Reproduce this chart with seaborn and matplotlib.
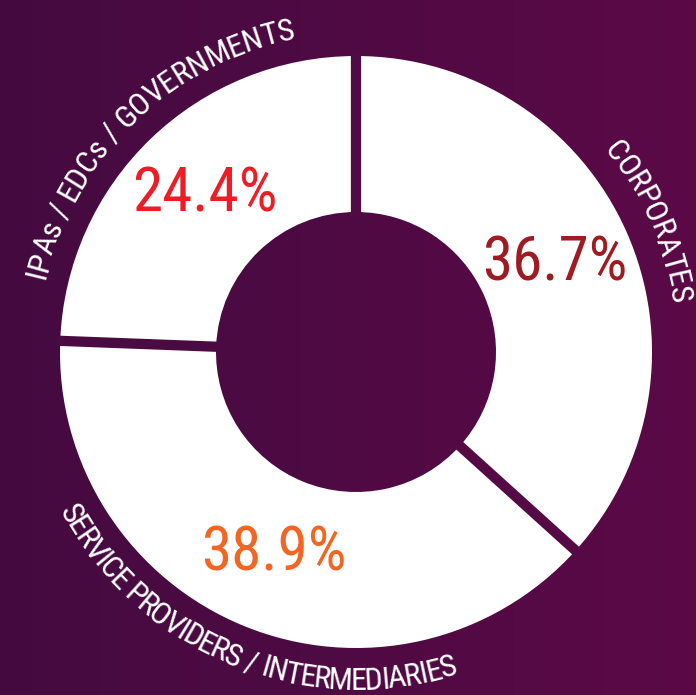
import numpy as np
import seaborn as sns
import matplotlib.pyplot as plt
from matplotlib.colors import LinearSegmentedColormap


categories = ['CORPORATES', 'SERVICE PROVIDERS / INTERMEDIARIES', 'IPAs / EDCs / GOVERNMENTS']
shares = [36.7, 38.9, 24.4]
pct_colors = ['#9e1b22', '#f26522', '#ee1c25']

sns.set_style('white')
plt.rcParams['font.family'] = ['Roboto Condensed', 'DejaVu Sans']
plt.rcParams['font.stretch'] = 'condensed'

W, H = 696, 695
fig = plt.figure(figsize=(W / 100, H / 100), dpi=100)
ax = fig.add_axes([0, 0, 1, 1])

# purple background, darker on the left
bg = LinearSegmentedColormap.from_list('bg', ['#440b40', '#5b0947'])
ax.imshow(np.linspace(0, 1, 256).reshape(1, -1), extent=[0, W, 0, H],
          cmap=bg, aspect='auto', zorder=0)

cx, cy = 356, H - 352
r_out, r_in = 296, 140

wedges, texts, autotexts = ax.pie(
    shares, startangle=90, counterclock=False, colors=['white'] * 3,
    radius=r_out, center=(cx, cy), frame=True,
    wedgeprops=dict(width=r_out - r_in, linewidth=0),
    autopct='%.1f%%', pctdistance=(r_out + r_in) / 2 / r_out,
    textprops=dict(fontsize=44))
for t, c in zip(autotexts, pct_colors):
    t.set_color(c)

ax.set_xlim(0, W)
ax.set_ylim(0, H)
ax.axis('off')

# gaps between the slices
cum = np.concatenate([[0], np.cumsum(shares)[:-1]])
for c in cum:
    a = np.radians(90 - 360 * c / 100)
    xs = [cx + (r_in - 3) * np.cos(a), cx + (r_out + 3) * np.cos(a)]
    ys = [cy + (r_in - 3) * np.sin(a), cy + (r_out + 3) * np.sin(a)]
    ax.plot(xs, ys, color=bg(np.mean(xs) / W), lw=7.4, solid_capstyle='butt', zorder=3)

renderer = fig.canvas.get_renderer()


def text_width(s, fs):
    t = ax.text(0, 0, s, fontsize=fs)
    w = t.get_window_extent(renderer).width
    t.remove()
    return w


def curved_label(text, mid_deg, r_mid, fs, cap, track=1.0):
    top = np.sin(np.radians(mid_deg)) > 0
    ref = text_width('||', fs)
    offs = [text_width('|' + text[:i] + '|', fs) - ref for i in range(len(text) + 1)]
    total = offs[-1]
    for i, ch in enumerate(text):
        if ch == ' ':
            continue
        s = ((offs[i] + offs[i + 1]) / 2 - total / 2) * track
        if top:
            ang = mid_deg - np.degrees(s / r_mid)
            rot = ang - 90
            rb = r_mid - cap / 2
        else:
            ang = mid_deg + np.degrees(s / r_mid)
            rot = ang + 90
            rb = r_mid + cap / 2
        a = np.radians(ang)
        ax.text(cx + rb * np.cos(a), cy + rb * np.sin(a), ch, color='white',
                fontsize=fs, ha='center', va='baseline', rotation=rot,
                rotation_mode='anchor', zorder=4)


for c, share, label in zip(cum, shares, categories):
    mid = 90 - 360 * (c + share / 2) / 100
    if np.sin(np.radians(mid)) > 0:
        curved_label(label, mid, 331, 23, 23)
    else:
        curved_label(label, mid, 326, 23, 23, track=0.88)

fig.savefig('out.png', dpi=100)
